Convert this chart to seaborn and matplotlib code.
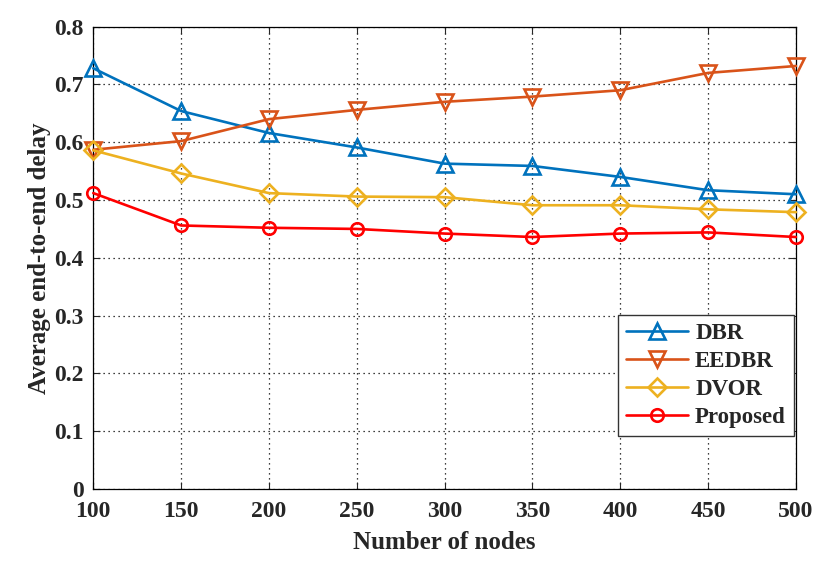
import numpy as np
import pandas as pd
import matplotlib
matplotlib.use("Agg")
import matplotlib.pyplot as plt
import seaborn as sns

# dados
nodes = [100, 150, 200, 250, 300, 350, 400, 450, 500]
dbr = [0.728, 0.654, 0.616, 0.591, 0.563, 0.559, 0.540, 0.517, 0.510]
eedbr = [0.587, 0.602, 0.640, 0.656, 0.670, 0.679, 0.690, 0.720, 0.732]
dvor = [0.586, 0.546, 0.512, 0.506, 0.505, 0.491, 0.491, 0.484, 0.479]
proposed = [0.512, 0.456, 0.452, 0.450, 0.442, 0.436, 0.442, 0.444, 0.436]

series = ['DBR', 'EEDBR', 'DVOR', 'Proposed']
values = [dbr, eedbr, dvor, proposed]
colors = ['#0072BD', '#D95319', '#EDB120', '#FF0000']
markers = ['^', 'v', 'D', 'o']
msizes = [11, 11, 9.5, 9]

rows = []
for name, vals in zip(series, values):
    for n, v in zip(nodes, vals):
        rows.append({'Nodes': n, 'Delay': v, 'Scheme': name})
df = pd.DataFrame(rows)

sns.set_style("white")
plt.rcParams['font.family'] = ['Liberation Serif', 'DejaVu Serif']
plt.rcParams['font.weight'] = 'bold'

fig = plt.figure(figsize=(8.3, 5.64), dpi=100)
ax = fig.add_axes([0.1124, 0.133, 0.8466, 0.8197])

for name, c, m, ms in zip(series, colors, markers, msizes):
    sub = df[df['Scheme'] == name]
    sns.lineplot(data=sub, x='Nodes', y='Delay', ax=ax, color=c, marker=m,
                 markersize=ms, markerfacecolor='none', markeredgecolor=c,
                 markeredgewidth=1.9, linewidth=1.9, label=name, clip_on=False,
                 zorder=3)

ax.set_xlim(100, 500)
ax.set_ylim(0, 0.8)
ax.set_xticks(nodes)
ax.set_yticks(np.arange(0, 0.81, 0.1))
ax.set_yticklabels(['0', '0.1', '0.2', '0.3', '0.4', '0.5', '0.6', '0.7', '0.8'])
ax.grid(True, color='black', linestyle=(0, (1, 3)), linewidth=0.9)
ax.tick_params(direction='in', length=5, labelsize=17, width=0.8,
               top=True, right=True, bottom=True, left=True)
ax.tick_params(axis='x', pad=9)
ax.tick_params(axis='y', pad=7)
for lab in ax.get_xticklabels() + ax.get_yticklabels():
    lab.set_fontweight('bold')
for sp in ax.spines.values():
    sp.set_color('black')
    sp.set_linewidth(0.9)

ax.set_xlabel('Number of nodes', fontsize=18, fontweight='bold', labelpad=6)
ax.set_ylabel('Average end-to-end delay', fontsize=18, fontweight='bold', labelpad=2)

leg = ax.legend(loc='lower right', bbox_to_anchor=(0.997, 0.115), fontsize=16.5,
                frameon=True, fancybox=False, handlelength=2.7, borderaxespad=0,
                labelspacing=0.3, handletextpad=0.3, borderpad=0.35)
leg.get_frame().set_edgecolor('#333333')
leg.get_frame().set_linewidth(1.0)
leg.get_frame().set_alpha(1)
for t in leg.get_texts():
    t.set_fontweight('bold')

fig.savefig('out.png', dpi=100)
